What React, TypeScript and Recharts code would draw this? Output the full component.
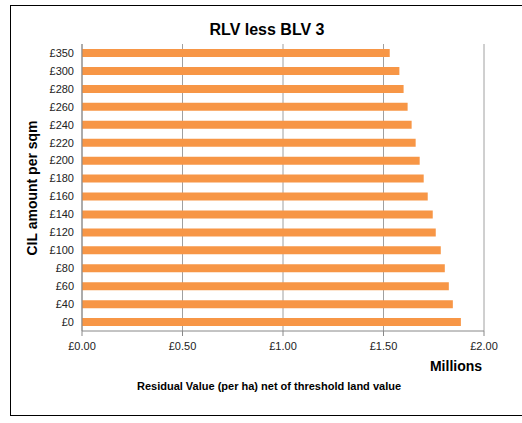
import React from 'react';
import { BarChart, Bar, XAxis, YAxis, CartesianGrid } from 'recharts';

// CIL rates (per sqm) and residual value net of threshold land value, £ millions per ha
const cilRates = ['£0', '£40', '£60', '£80', '£100', '£120', '£140', '£160', '£180', '£200', '£220', '£240', '£260', '£280', '£300', '£350'];
const residualValues = [1.885, 1.845, 1.825, 1.805, 1.785, 1.76, 1.745, 1.72, 1.7, 1.68, 1.66, 1.64, 1.62, 1.6, 1.579, 1.531];
const xTicks = [0, 0.5, 1, 1.5, 2];

const FONT = 'Arial, "Liberation Sans", sans-serif';

const App: React.FC = () => {
  const data = cilRates.map((rate, i) => ({ rate, value: residualValues[i] }));

  return (
    <div style={{ position: 'fixed', left: 0, top: 0, width: 522, height: 423, overflow: 'hidden', background: '#fff' }}>
      {/* outer frame: the right edge runs off the picture */}
      <div
        style={{
          position: 'absolute',
          left: 10,
          top: 5,
          width: 520,
          height: 411,
          borderTop: '1.5px solid #000',
          borderLeft: '1.5px solid #000',
          borderBottom: '1.5px solid #000',
          boxSizing: 'border-box',
        }}
      />
      <BarChart
        width={522}
        height={423}
        data={data}
        layout="vertical"
        margin={{ top: 44, right: 38, bottom: 62, left: 22 }}
        style={{ position: 'absolute', left: 0, top: 0, fontFamily: FONT }}
      >
        <CartesianGrid horizontal={false} stroke="#a0a0a0" />
        <XAxis
          type="number"
          domain={[0, 2]}
          ticks={xTicks}
          tickFormatter={(v: number) => `£${v.toFixed(2)}`}
          tick={{ fontSize: 11, fill: '#222' }}
          tickSize={5}
          tickMargin={6}
          stroke="#888"
          height={30}
        />
        <YAxis
          type="category"
          dataKey="rate"
          reversed
          interval={0}
          width={60}
          tickLine={false}
          tick={{ fontSize: 11, fill: '#222' }}
          stroke="#888"
        />
        <Bar dataKey="value" fill="#F79646" barSize={8} isAnimationActive={false} />
        <text x={267} y={29} textAnchor="middle" dominantBaseline="central" fontSize={16} fontWeight="bold" fill="#000">
          RLV less BLV 3
        </text>
        <text
          x={32}
          y={188}
          textAnchor="middle"
          dominantBaseline="central"
          fontSize={14}
          fontWeight="bold"
          fill="#000"
          transform="rotate(-90 32 188)"
        >
          CIL amount per sqm
        </text>
        <text x={456} y={366} textAnchor="middle" dominantBaseline="central" fontSize={14} fontWeight="bold" fill="#000">
          Millions
        </text>
        <text x={269} y={386} textAnchor="middle" dominantBaseline="central" fontSize={11} fontWeight="bold" fill="#000">
          Residual Value (per ha) net of threshold land value
        </text>
      </BarChart>
    </div>
  );
};

export default App;
